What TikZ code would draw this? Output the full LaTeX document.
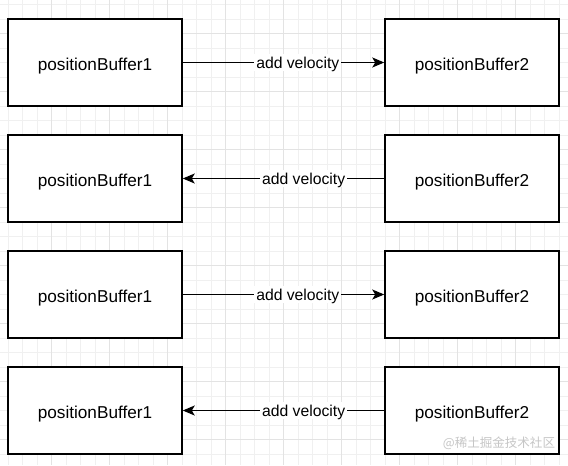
\documentclass[tikz,border=0pt]{standalone}
\usepackage{fontspec}
\setmainfont{Liberation Sans}
\newfontfamily\cjk{Noto Sans CJK SC}
\usepackage{tikz}
\usetikzlibrary{arrows.meta}
\usetikzlibrary{positioning}
\tikzstyle{every path}=[line cap=butt,line join=miter]
\tikzstyle{buffer}=[draw,fill=white,line width=1.1pt,minimum width=130.5pt,minimum height=65.25pt,text height=12.3pt,text depth=0pt,font=\fontsize{12.9pt}{15pt}\selectfont]
\tikzstyle{flow}=[line width=1.1pt,-{Stealth[length=9pt,width=7.5pt,inset=2.2pt]}]
\tikzstyle{lbl}=[fill=white,inner xsep=1.5pt,inner ysep=2pt,text height=9pt,text depth=0pt,font=\fontsize{11.8pt}{14pt}\selectfont]

\begin{document}
\begin{tikzpicture}[x=0.75pt,y=-0.75pt]
\useasboundingbox (0,0) rectangle (568,465);
\fill[white] (0,0) rectangle (568,465);

% grid
\foreach \i in {0,...,38} {
  \draw[gray!12,line width=0.6pt] ({8+14.5*\i},0) -- ({8+14.5*\i},465);
}
\foreach \j in {0,...,31} {
  \draw[gray!12,line width=0.6pt] (0,{4.5+14.5*\j}) -- (568,{4.5+14.5*\j});
}
\foreach \i in {0,...,9} {
  \draw[gray!22,line width=0.6pt] ({-6.5+58*\i},0) -- ({-6.5+58*\i},465);
}
\foreach \j in {0,...,7} {
  \draw[gray!22,line width=0.6pt] (0,{33.5+58*\j}) -- (568,{33.5+58*\j});
}

% buffers
\node[buffer] (pa1) at (95,62.5) {positionBuffer1};
\node[buffer] (pb1) at (472,62.5) {positionBuffer2};
\node[buffer] (pa2) at (95,178.5) {positionBuffer1};
\node[buffer] (pb2) at (472,178.5) {positionBuffer2};
\node[buffer] (pa3) at (95,294.5) {positionBuffer1};
\node[buffer] (pb3) at (472,294.5) {positionBuffer2};
\node[buffer] (pa4) at (95,410.5) {positionBuffer1};
\node[buffer] (pb4) at (472,410.5) {positionBuffer2};

% add velocity
\draw[flow] (pa1) -- node[lbl,pos=0.571] {add velocity} (pb1);
\draw[flow] (pb2) -- node[lbl,pos=0.40] {add velocity} (pa2);
\draw[flow] (pa3) -- node[lbl,pos=0.571] {add velocity} (pb3);
\draw[flow] (pb4) -- node[lbl,pos=0.40] {add velocity} (pa4);

\node[text=gray!45,font=\cjk\fontsize{9.4pt}{11pt}\selectfont,inner sep=0pt] (wm) at (499,443.5) {@稀土掘金技术社区};
\end{tikzpicture}
\end{document}
